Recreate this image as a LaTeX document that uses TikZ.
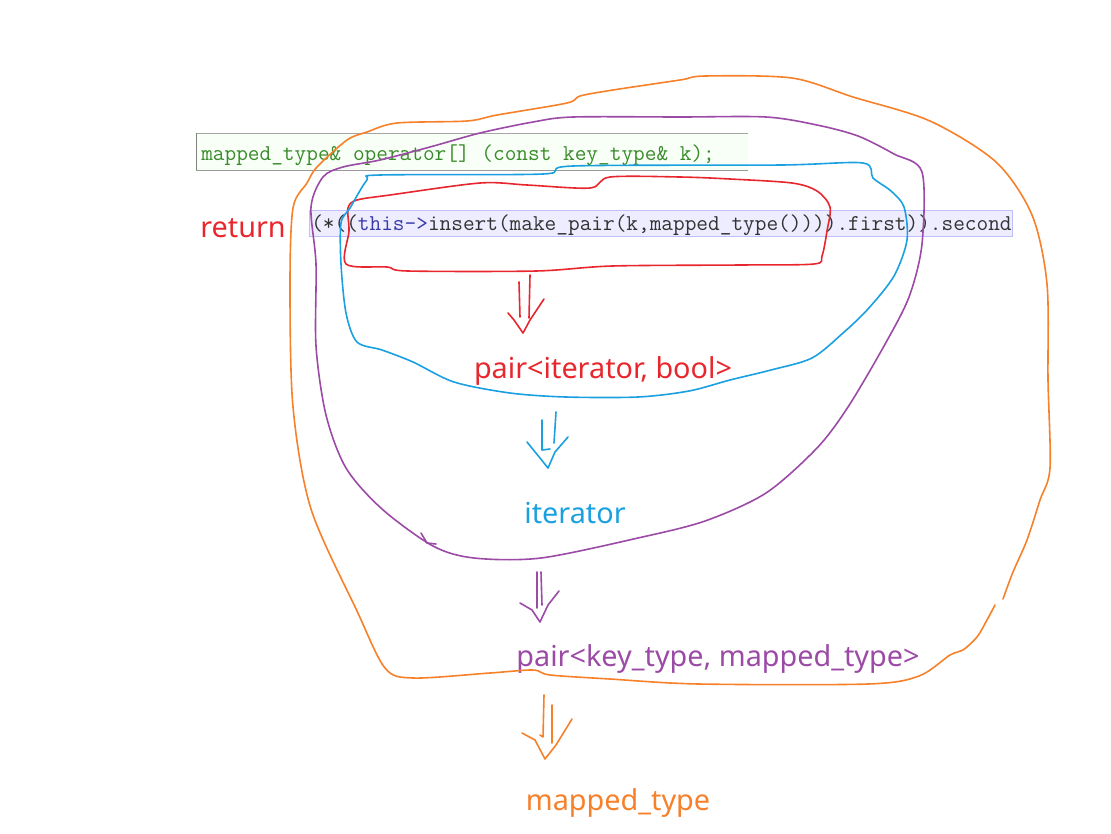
\documentclass[tikz,border=0pt]{standalone}
\usepackage{fontspec}
\setmainfont{Noto Sans}
\newfontfamily\codefont{Latin Modern Mono}
\usetikzlibrary{positioning}

\definecolor{penred}{HTML}{E8262D}
\definecolor{penblue}{HTML}{1AA0E0}
\definecolor{penpurple}{HTML}{9B4AA6}
\definecolor{penorange}{HTML}{F7802A}
\definecolor{codegreen}{HTML}{3A8A2A}
\definecolor{codeblue}{HTML}{3A3AA8}
\definecolor{codegray}{HTML}{333333}

\tikzset{
  pen/.style={line width=1.2pt, line join=round, line cap=round},
  label/.style={font=\fontsize{21.6}{24}\selectfont, inner sep=0pt, anchor=base},
  code/.style={font=\codefont\fontsize{17}{18}\selectfont, inner sep=0pt, anchor=base west}
}

\begin{document}
\begin{tikzpicture}[x=0.75pt, y=-0.75pt]
\useasboundingbox (0,0) rectangle (1111,833);
%\draw[help lines] (0,0) grid (1111,833);

% the two code lines
\fill[green!3] (196,133) rectangle (748,170);
\draw[gray!70] (196,133) -- (748,133);
\draw[gray!80] (196,170) -- (748,170);
\draw[gray] (196,133) -- (196,170);
\draw[blue!25, fill=blue!7] (309,210) rectangle (1012,236);

\node[code, text=codegreen] (sig) at (201,160) {mapped\_type\& operator[] (const key\_type\& k);};
\node[code, text=codegray] (expr) at (311,230) {(*((\textcolor{codeblue}{this->}insert(make\_pair(k,mapped\_type()))).first)).second};

% labels
\node[label, text=penred] (ret) at (243,237) {return};
\node[label, text=penred] (pairib) at (603,378) {pair<iterator, bool>};
\node[label, text=penblue] (iter) at (575,523) {iterator};
\node[label, text=penpurple] (pairkm) at (718,666) {pair<key\_type, mapped\_type>};
\node[label, text=penorange] (mtype) at (618,810) {mapped\_type};

% hand drawn rings
\draw[pen, penred] plot[smooth cycle, tension=0.5] coordinates {(357,200) (390,195) (480,183) (527,185) (590,188) (610,177) (680,177) (730,179) (792,183) (817,191) (830,207) (827,231) (822,256) (814,264) (740,265) (612,266) (536,271) (408,271) (387,267) (346,264) (349,231) (348,208)};
\draw[pen, penblue] plot[smooth cycle, tension=0.5] coordinates {(380,175) (543,174) (573,166) (781,165) (863,163) (873,178) (891,191) (904,207) (907,240) (894,276) (868,309) (843,333) (812,358) (771,370) (730,380) (689,391) (638,397) (566,397) (510,393) (454,382) (413,362) (382,350) (357,342) (346,313) (341,264) (341,223) (350,208) (367,180)};
\draw[pen, penpurple] plot[smooth cycle, tension=0.5] coordinates {(573,117) (680,117) (766,117) (817,125) (858,136) (894,154) (922,172) (922,244) (909,297) (884,346) (848,407) (817,448) (766,493) (705,521) (638,538) (541,558) (474,558) (433,546) (382,509) (346,468) (326,415) (316,346) (316,264) (311,207) (323,177) (343,167) (380,160) (430,147) (480,133) (533,122)};
\draw[pen, penpurple] (421,533) -- (427,543) -- (436,544);
\draw[pen, penorange] plot[smooth, tension=0.5] coordinates {(1003,599) (1013,572) (1027,540) (1040,500) (1050,468) (1048,380) (1047,284) (1032,215) (996,162) (930,121) (853,97) (792,78) (705,76) (680,80) (613,90) (580,96) (567,103) (497,115) (467,121) (397,123) (367,132) (347,140) (317,167) (307,183) (293,208) (290,284) (293,407) (311,509) (357,611) (385,668) (413,678) (490,673) (533,670) (550,675) (610,679) (699,684) (868,684) (919,676) (950,655) (963,650) (977,637) (987,620) (995,605)};

% hand drawn double arrows
\draw[pen, penred] (519,282) -- (520,317);
\draw[pen, penred] (530,275) -- (529,318);
\draw[pen, penred] (508,313) -- (514,320) -- (523,333) -- (530,320) -- (544,299);
\draw[pen, penblue] (542,420) -- (542,450) -- (550,449);
\draw[pen, penblue] (556,412) -- (554,443);
\draw[pen, penblue] (527,442) -- (540,458) -- (548,468) -- (555,452) -- (568,437);
\draw[pen, penpurple] (537,572) -- (537,608);
\draw[pen, penpurple] (541,572) -- (542,605);
\draw[pen, penpurple] (520,603) -- (532,610) -- (540,622) -- (548,605) -- (559,591);
\draw[pen, penorange] (544,695) -- (543,737) -- (540,735);
\draw[pen, penorange] (552,705) -- (552,743);
\draw[pen, penorange] (522,733) -- (535,740) -- (545,759) -- (556,745) -- (572,719);
\end{tikzpicture}
\end{document}
